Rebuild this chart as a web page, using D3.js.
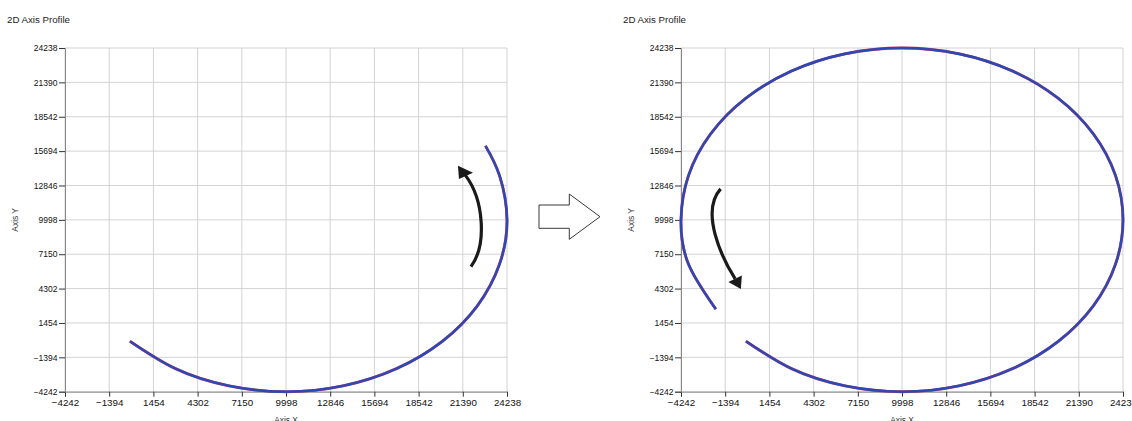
<!DOCTYPE html>
<html>
<head>
<meta charset="utf-8">
<script src="https://cdn.jsdelivr.net/npm/d3@7"></script>
<style>
  body { margin: 0; background: #fff; }
  svg { display: block; font-family: "Liberation Sans", Arial, sans-serif; }
</style>
</head>
<body>
<script>
    let ticks = [-4242, -1394, 1454, 4302, 7150, 9998, 12846, 15694, 18542, 21390, 24238];
    let titles = ["2D Axis Profile", "2D Axis Profile"];

    // traced profile (axis units)
    let leftTrace = [[-60, -60], [2878, -2334], [6313, -3756], [9998, -4242], [13683, -3756], [17118, -2334],
      [20067, -71], [22330, 2878], [23752, 6313], [24238, 9998], [23752, 13683], [22850, 16130]];
    let rightTrace = [[-60, -60], [2878, -2334], [6313, -3756], [9998, -4242], [13683, -3756], [17118, -2334],
      [20067, -71], [22330, 2878], [23752, 6313], [24238, 9998], [23752, 13683], [22330, 17118],
      [20067, 20067], [17118, 22330], [13683, 23752], [9998, 24238], [6313, 23752], [2878, 22330],
      [-71, 20067], [-2334, 17118], [-3756, 13683], [-4242, 9998], [-3756, 6313], [-2000, 2600]];

    // direction arrows (axis units): bezier start, control 1, control 2, end; then head triangle
    let leftArrowShaft = [[21917, 6122], [22947, 7921], [22754, 11652], [21562, 13683]];
    let leftArrowHead = [[21079, 14471], [21143, 13393], [22045, 13891]];
    let rightArrowShaft = [[-1690, 12564], [-3020, 10657], [-1606, 6843], [-751, 5102]];
    let rightArrowHead = [[-385, 4273], [-1188, 4853], [-320, 5392]];

    let padding = {"top": 48, "left": 65},
      width = 442,
      height = 343.7,
      panelX = [65, 681];

    const svg = d3.select("body")
      .append("svg")
      .attr("width", 1132)
      .attr("height", 421);

    let xscale = d3.scaleLinear().domain([-4242, 24238]).range([0, width]);
    let yscale = d3.scaleLinear().domain([-4242, 24238]).range([height, 0]);

    let line = d3.line()
      .x((d) => xscale(d[0]))
      .y((d) => yscale(d[1]))
      .curve(d3.curveNatural);

    function drawPanel(i, trace, shaft, head) {
      let g = svg.append("g")
        .attr("transform", "translate(" + panelX[i] + "," + padding.top + ")");

      svg.append("text")
        .text(titles[i])
        .attr("x", panelX[i] - 58)
        .attr("y", 23.3)
        .style("font-size", "9.7px")
        .attr("fill", "#222");

      g.selectAll(".hgrid")
        .data(ticks)
        .enter()
        .append("line")
        .attr("x1", 0)
        .attr("x2", width)
        .attr("y1", (d) => yscale(d))
        .attr("y2", (d) => yscale(d))
        .attr("stroke", "#d3d3d3")
        .attr("stroke-width", 1);

      g.selectAll(".vgrid")
        .data(ticks)
        .enter()
        .append("line")
        .attr("x1", (d) => xscale(d))
        .attr("x2", (d) => xscale(d))
        .attr("y1", 0)
        .attr("y2", height)
        .attr("stroke", "#d3d3d3")
        .attr("stroke-width", 1);

      let x_axis = d3.axisBottom(xscale).tickValues(ticks).tickSize(5).tickPadding(2).tickFormat(d3.format("d"));
      let y_axis = d3.axisLeft(yscale).tickValues(ticks).tickSize(6).tickPadding(1.5).tickFormat(d3.format("d"));

      let gx = g.append("g")
        .attr("transform", "translate(0," + height + ")")
        .call(x_axis);
      gx.select(".domain").attr("stroke", "#888");
      gx.selectAll(".tick line").attr("stroke", "#333");
      gx.selectAll(".tick text")
        .style("font-size", "9.8px")
        .style("font-family", "Liberation Sans, Arial, sans-serif")
        .attr("fill", "#111");

      let gy = g.append("g").call(y_axis);
      gy.select(".domain").attr("stroke", "#888");
      gy.selectAll(".tick line").attr("stroke", "#333");
      gy.selectAll(".tick text")
        .style("font-size", "8.5px")
        .style("font-family", "Liberation Sans, Arial, sans-serif")
        .attr("fill", "#111");

      g.append("text")
        .text("Axis X")
        .attr("x", width / 2)
        .attr("y", height + 31.5)
        .attr("text-anchor", "middle")
        .style("font-size", "8.4px")
        .attr("fill", "#333");

      g.append("text")
        .text("Axis Y")
        .attr("text-anchor", "middle")
        .style("font-size", "8.4px")
        .attr("fill", "#333")
        .attr("transform", "translate(" + (-47.5) + "," + (height / 2) + ") rotate(-90)");

      // commanded (red) under actual (blue)
      g.append("path")
        .datum(trace)
        .attr("d", line)
        .attr("fill", "none")
        .attr("stroke", "#e0406a")
        .attr("stroke-width", 2.9);

      g.append("path")
        .datum(trace)
        .attr("d", line)
        .attr("fill", "none")
        .attr("stroke", "#2d48b0")
        .attr("stroke-width", 2.6);

      let p = shaft.map((d) => [xscale(d[0]), yscale(d[1])]);
      let arc = d3.path();
      arc.moveTo(p[0][0], p[0][1]);
      arc.bezierCurveTo(p[1][0], p[1][1], p[2][0], p[2][1], p[3][0], p[3][1]);

      g.append("path")
        .attr("d", arc.toString())
        .attr("fill", "none")
        .attr("stroke", "#1a1a1a")
        .attr("stroke-width", 3.2)
        .attr("stroke-linecap", "butt");

      g.append("path")
        .attr("d", "M" + head.map((d) => xscale(d[0]) + "," + yscale(d[1])).join("L") + "Z")
        .attr("fill", "#1a1a1a");
    }

    drawPanel(0, leftTrace, leftArrowShaft, leftArrowHead);
    drawPanel(1, rightTrace, rightArrowShaft, rightArrowHead);

    // block arrow between the two panels
    svg.append("path")
      .attr("d", "M539,205 L569.3,205 L569.3,194 L600,216.7 L569.3,239.3 L569.3,228.3 L539,228.3 Z")
      .attr("fill", "#fff")
      .attr("stroke", "#222")
      .attr("stroke-width", 0.9);
</script>
</body>
</html>
